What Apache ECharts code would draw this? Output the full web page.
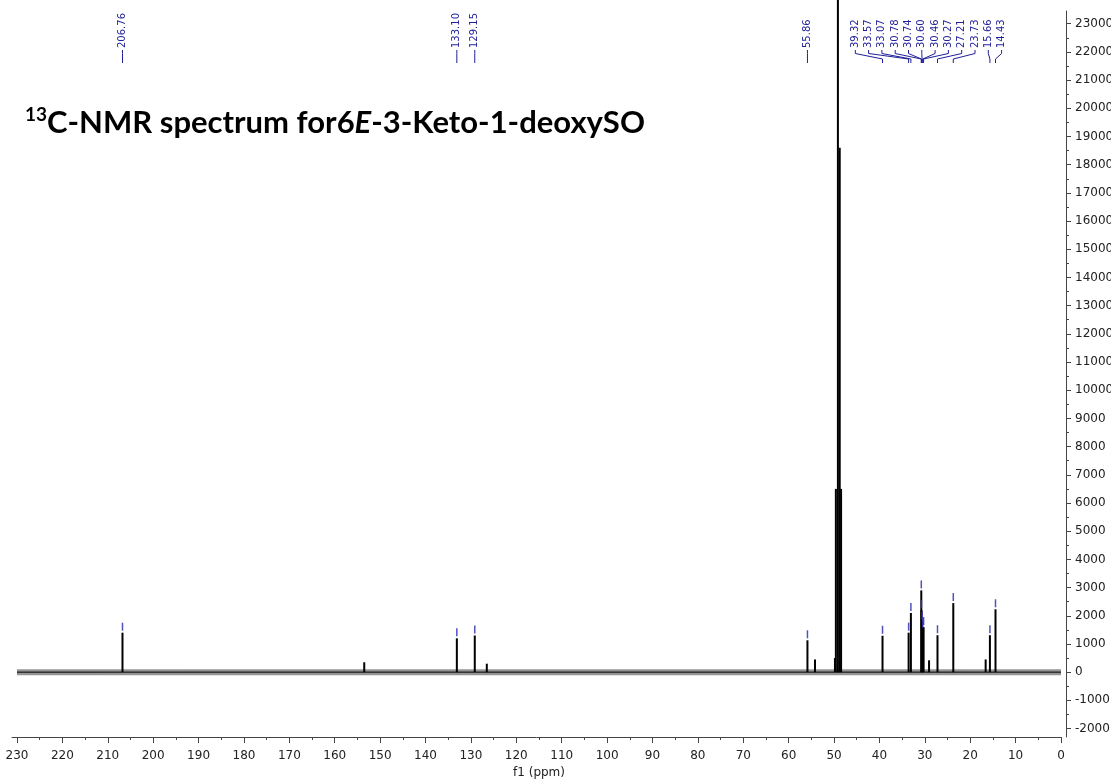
<!DOCTYPE html>
<html><head><meta charset="utf-8">
<script src="https://cdn.jsdelivr.net/npm/echarts@6/dist/echarts.min.js"></script>
<style>html,body{margin:0;padding:0;background:#fff}#c{width:1111px;height:780px}</style>
</head><body><div id="c"></div>
<script>
// ---- data ----
const labeledPpm    = [206.76, 133.10, 129.15, 55.86, 39.32, 33.57, 33.07, 30.78, 30.74, 30.60, 30.46, 30.27, 27.21, 23.73, 15.66, 14.43];
const labeledHeight = [1400, 1200, 1300, 1130, 1290, 1400, 2100, 2900, 2200, 1800, 1500, 1600, 1310, 2450, 1310, 2230];
const labelCluster  = [0, 1, 2, 3, 4, 4, 4, 4, 4, 4, 4, 4, 4, 4, 4, 4];
const minorPpm      = [153.5, 126.5, 54.2, 49.8, 29.07, 16.6];
const minorHeight   = [350, 300, 450, 500, 420, 450];
const solventPpm    = [49.6, 49.15, 48.75, 48.45];
const solventHeight = [6500, 30000, 18600, 6500];
const baselineSpan  = [230, 0];
const xTickLabels   = [0,10,20,30,40,50,60,70,80,90,100,110,120,130,140,150,160,170,180,190,200,210,220,230];
const yTickLabels   = [-2000,-1000,0,1000,2000,3000,4000,5000,6000,7000,8000,9000,10000,11000,12000,13000,14000,15000,16000,17000,18000,19000,20000,21000,22000,23000];
const yMinorTicks   = [-1500,-500,500,1500,2500,3500,4500,5500,6500,7500,8500,9500,10500,11500,12500,13500,14500,15500,16500,17500,18500,19500,20500,21500,22500];

// ---- style ----
const BLUE = '#1f1f99';
const MARK = 'rgba(50,50,180,0.85)';
const AX = '#444';
const FONT = '"DejaVu Sans", sans-serif';
const Y_MIN = -2300, Y_MAX = 23450;
const LABEL_SPACING = 13.3, GROUP_SHIFT = -4;

const peakData = [];
labeledPpm.forEach((p, i) => peakData.push([p, labeledHeight[i]]));
minorPpm.forEach((p, i) => peakData.push([p, minorHeight[i]]));
solventPpm.forEach((p, i) => peakData.push([p, solventHeight[i]]));

function renderAnno(params, api) {
  const i = params.dataIndex;
  const ppm = labeledPpm[i], h = labeledHeight[i];
  const px = api.coord([ppm, 0])[0];
  const topY = api.coord([ppm, h])[1];
  const members = [];
  labelCluster.forEach((c, j) => { if (c === labelCluster[i]) members.push(j); });
  let lx = px;
  if (members.length > 1) {
    const xs = members.map(j => api.coord([labeledPpm[j], 0])[0]);
    const c = xs.reduce((a, b) => a + b, 0) / xs.length + GROUP_SHIFT;
    const k = members.indexOf(i);
    lx = c + (k - (members.length - 1) / 2) * LABEL_SPACING;
  }
  return {
    type: 'group',
    children: [
      { type: 'text', x: lx, y: 48, rotation: Math.PI / 2,
        style: { text: ppm.toFixed(2), fill: BLUE, font: '10px ' + FONT, align: 'left', verticalAlign: 'middle' } },
      { type: 'polyline', shape: { points: [[lx, 50], [lx, 53.5], [px, 59], [px, 63]] },
        style: { stroke: BLUE, lineWidth: 1, fill: null } },
      { type: 'line', shape: { x1: px, y1: topY - 10, x2: px, y2: topY - 2 },
        style: { stroke: MARK, lineWidth: 1.5 } }
    ]
  };
}

const plain = v => String(v);
const chart = echarts.init(document.getElementById('c'), null, { renderer: 'canvas' });
chart.setOption({
  animation: false,
  backgroundColor: '#fff',
  title: {
    text: '{s|13}{b|C-NMR spectrum for6}{i|E}{b|-3-Keto-1-deoxySO}',
    left: 20, top: 100,
    textStyle: {
      rich: {
        s: { fontSize: 19, fontWeight: 'bold', fontFamily: 'Lato', color: '#000', verticalAlign: 'top', lineHeight: 36 },
        b: { fontSize: 31, fontWeight: 'bold', fontFamily: 'Lato', color: '#000', lineHeight: 36 },
        i: { fontSize: 31, fontWeight: 'bold', fontStyle: 'italic', fontFamily: 'Lato', color: '#000', lineHeight: 36 }
      }
    }
  },
  grid: [
    { left: 17, right: 50, top: 11, bottom: 43, containLabel: false, outerBoundsMode: 'none' },
    { left: 12, right: 50, top: 11, bottom: 43, containLabel: false, outerBoundsMode: 'none' }
  ],
  xAxis: [
    { type: 'value', gridIndex: 0, min: 0, max: 230, interval: 10, inverse: true, position: 'bottom',
      name: 'f1 (ppm)', nameLocation: 'middle', nameGap: 26,
      nameTextStyle: { fontFamily: FONT, fontSize: 12, color: '#222' },
      axisLine: { show: false, onZero: false },
      axisTick: { show: true, length: 6, lineStyle: { color: AX } },
      minorTick: { show: true, splitNumber: 2, length: 3, lineStyle: { color: AX } },
      axisLabel: { customValues: xTickLabels, formatter: plain, margin: 13, fontFamily: FONT, fontSize: 12, color: '#222' },
      splitLine: { show: false }, minorSplitLine: { show: false } },
    { type: 'value', gridIndex: 1, min: 0, max: 1, show: true, position: 'bottom',
      axisLine: { show: true, onZero: false, lineStyle: { color: AX, width: 1 } },
      axisTick: { show: false }, axisLabel: { show: false }, splitLine: { show: false } }
  ],
  yAxis: [
    { type: 'value', gridIndex: 0, position: 'right', offset: 5, min: Y_MIN, max: Y_MAX,
      axisLine: { show: true, onZero: false, lineStyle: { color: AX } },
      axisTick: { show: true, customValues: yTickLabels, length: 5, lineStyle: { color: AX } },
      axisLabel: { customValues: yTickLabels, formatter: plain, margin: 9, fontFamily: FONT, fontSize: 12, color: '#222' },
      splitLine: { show: false } },
    { type: 'value', gridIndex: 0, position: 'right', offset: 5, min: Y_MIN, max: Y_MAX,
      axisLine: { show: false, onZero: false },
      axisTick: { show: true, customValues: yMinorTicks, length: 3, lineStyle: { color: AX } },
      axisLabel: { show: false }, splitLine: { show: false } },
    { type: 'value', gridIndex: 1, show: false, min: 0, max: 1 }
  ],
  series: [
    { type: 'line', xAxisIndex: 0, yAxisIndex: 0, data: baselineSpan.map(x => [x, 0]), symbol: 'none',
      lineStyle: { color: 'rgba(0,0,0,0.42)', width: 6 }, silent: true, z: 1 },
    { type: 'line', xAxisIndex: 0, yAxisIndex: 0, data: baselineSpan.map(x => [x, 0]), symbol: 'none',
      lineStyle: { color: '#000', width: 1 }, silent: true, z: 2 },
    { type: 'bar', xAxisIndex: 0, yAxisIndex: 0, data: peakData, barWidth: 2,
      itemStyle: { color: '#000' }, clip: false, z: 3 },
    { type: 'custom', xAxisIndex: 0, yAxisIndex: 0, data: labeledPpm.map((p, i) => [p, labeledHeight[i]]),
      renderItem: renderAnno, clip: false, z: 5, silent: true }
  ]
});
</script>
</body></html>
